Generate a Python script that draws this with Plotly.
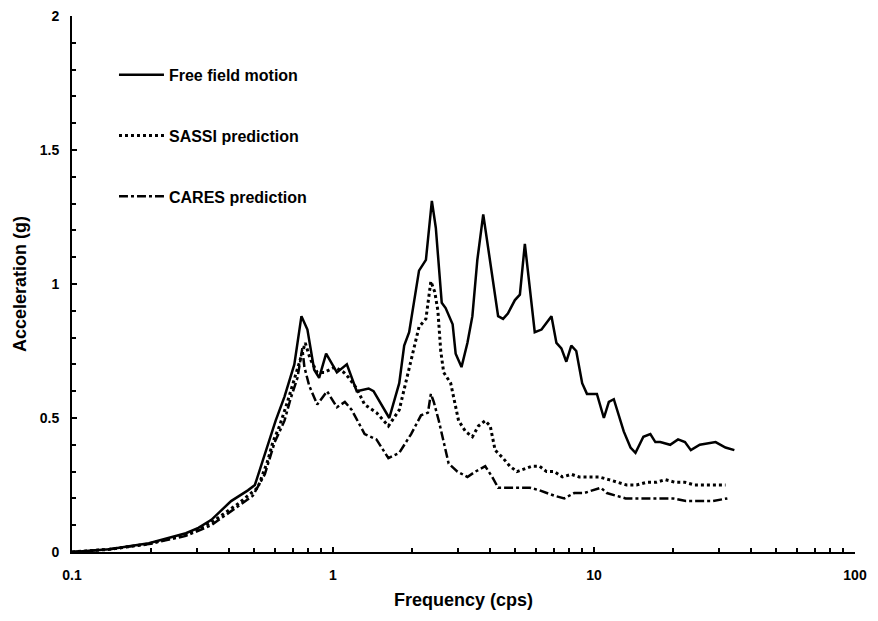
import plotly.graph_objects as go

# ---- data ----
free_f = [0.100, 0.139, 0.197, 0.273, 0.305, 0.342, 0.407, 0.472, 0.502, 0.538, 0.573, 0.603,
          0.652, 0.711, 0.757, 0.798, 0.847, 0.885, 0.941, 1.035, 1.130, 1.233, 1.369, 1.430,
          1.643, 1.794, 1.874, 1.958, 2.136, 2.270, 2.392, 2.477, 2.610, 2.701, 2.873, 2.951,
          3.107, 3.273, 3.420, 3.573, 3.764, 4.074, 4.292, 4.484, 4.677, 4.977, 5.200, 5.433,
          5.929, 6.295, 6.871, 7.178, 7.499, 7.834, 8.185, 8.551, 9.009, 9.398, 10.26, 10.91,
          11.40, 11.91, 13.00, 13.80, 14.42, 15.46, 16.44, 17.18, 17.94, 19.58, 20.99, 22.31,
          23.50, 25.43, 29.24, 31.90, 34.50]
free_a = [0.00, 0.01, 0.033, 0.07, 0.09, 0.12, 0.19, 0.23, 0.25, 0.34, 0.42, 0.49,
          0.58, 0.70, 0.88, 0.83, 0.68, 0.65, 0.74, 0.67, 0.70, 0.60, 0.61, 0.60,
          0.50, 0.63, 0.77, 0.82, 1.05, 1.09, 1.31, 1.21, 0.93, 0.91, 0.85, 0.74,
          0.69, 0.78, 0.88, 1.09, 1.26, 1.04, 0.88, 0.87, 0.89, 0.94, 0.96, 1.15,
          0.82, 0.83, 0.88, 0.78, 0.76, 0.71, 0.77, 0.75, 0.63, 0.59, 0.59, 0.50,
          0.56, 0.57, 0.45, 0.39, 0.37, 0.43, 0.44, 0.41, 0.41, 0.40, 0.42, 0.41,
          0.38, 0.40, 0.41, 0.39, 0.38]

sassi_f = [0.100, 0.139, 0.197, 0.273, 0.342, 0.433, 0.515, 0.562, 0.588, 0.624, 0.669, 0.731,
           0.783, 0.818, 0.870, 0.925, 1.018, 1.101, 1.150, 1.233, 1.322, 1.467, 1.630, 1.794,
           1.906, 2.027, 2.136, 2.270, 2.371, 2.455, 2.523, 2.587, 2.655, 2.824, 2.898, 3.028,
           3.218, 3.420, 3.606, 3.831, 4.003, 4.180, 4.484, 4.764, 5.070, 5.433, 5.771, 6.190,
           6.580, 7.050, 7.565, 8.185, 8.770, 9.570, 10.44, 11.40, 12.22, 13.34, 14.55, 15.88,
           17.33, 18.75, 20.46, 22.31, 24.33, 26.55, 28.98, 31.90]
sassi_a = [0.00, 0.01, 0.03, 0.065, 0.11, 0.18, 0.24, 0.34, 0.41, 0.47, 0.56, 0.68,
           0.78, 0.72, 0.67, 0.67, 0.69, 0.67, 0.65, 0.61, 0.55, 0.52, 0.47, 0.53,
           0.64, 0.74, 0.84, 0.87, 1.01, 0.97, 0.90, 0.75, 0.67, 0.63, 0.58, 0.49,
           0.45, 0.43, 0.47, 0.49, 0.47, 0.38, 0.35, 0.32, 0.30, 0.31, 0.32, 0.32,
           0.30, 0.30, 0.28, 0.29, 0.28, 0.28, 0.28, 0.27, 0.26, 0.25, 0.25, 0.26,
           0.26, 0.27, 0.26, 0.26, 0.25, 0.25, 0.25, 0.25]

cares_f = [0.100, 0.139, 0.197, 0.273, 0.342, 0.433, 0.493, 0.548, 0.598, 0.652, 0.687, 0.731,
           0.763, 0.777, 0.811, 0.870, 0.949, 1.035, 1.110, 1.180, 1.254, 1.322, 1.467, 1.533,
           1.630, 1.794, 1.992, 2.174, 2.311, 2.371, 2.433, 2.543, 2.655, 2.774, 2.999, 3.273,
           3.510, 3.831, 4.074, 4.292, 4.677, 5.289, 5.672, 6.190, 7.050, 7.697, 8.398, 9.165,
           10.63, 11.20, 12.11, 13.21, 14.55, 16.87, 18.41, 20.09, 22.51, 25.43, 28.51, 32.43]
cares_a = [0.00, 0.01, 0.03, 0.06, 0.10, 0.17, 0.21, 0.29, 0.41, 0.49, 0.57, 0.65,
           0.76, 0.69, 0.62, 0.55, 0.60, 0.54, 0.56, 0.53, 0.48, 0.44, 0.42, 0.39,
           0.35, 0.37, 0.44, 0.51, 0.52, 0.59, 0.56, 0.49, 0.41, 0.33, 0.30, 0.28,
           0.30, 0.32, 0.28, 0.24, 0.24, 0.24, 0.24, 0.23, 0.21, 0.20, 0.22, 0.22,
           0.24, 0.22, 0.21, 0.20, 0.20, 0.20, 0.20, 0.20, 0.19, 0.19, 0.19, 0.20]

names = ["Free field motion", "SASSI prediction", "CARES prediction"]
x_tick_vals = [0.1, 1, 10, 100]
x_tick_text = ["0.1", "1", "10", "100"]
y_tick_vals = [0, 0.5, 1, 1.5, 2]
y_tick_text = ["0", "0.5", "1", "1.5", "2"]

FONT = "Liberation Sans, Arial, sans-serif"

fig = go.Figure()
fig.add_trace(go.Scatter(x=free_f, y=free_a, mode="lines", name=names[0], legendgroup="a",
                         line=dict(color="black", width=2.5, dash="solid")))
fig.add_trace(go.Scatter(x=sassi_f, y=sassi_a, mode="lines", name=names[1], legendgroup="b",
                         line=dict(color="black", width=3, dash="dot")))
fig.add_trace(go.Scatter(x=cares_f, y=cares_a, mode="lines", name=names[2], legendgroup="c",
                         line=dict(color="black", width=2.5, dash="dashdot")))

minor_x = []
for d in [0.1, 1, 10]:
    for m in range(2, 10):
        minor_x.append(round(d * m, 3))

fig.update_xaxes(
    type="log", range=[-1, 2], automargin=False,
    tickvals=x_tick_vals, ticktext=x_tick_text, ticklabeloverflow="allow",
    ticks="inside", ticklen=5, tickwidth=1.5, tickcolor="black",
    minor=dict(tickvals=minor_x, ticks="inside", ticklen=4, tickcolor="black", showgrid=False),
    showline=True, linecolor="black", linewidth=2,
    showgrid=False, zeroline=False,
    tickfont=dict(family=FONT, size=14, color="black", weight="bold"),
    ticklabelstandoff=9,
    title=dict(text="Frequency (cps)", font=dict(family=FONT, size=18, color="black", weight="bold"),
               standoff=15),
)
fig.update_yaxes(
    range=[0, 2], automargin=False,
    tickvals=y_tick_vals, ticktext=y_tick_text, ticklabeloverflow="allow",
    ticks="inside", ticklen=5, tickwidth=1.5, tickcolor="black",
    minor=dict(dtick=0.1, ticks="inside", ticklen=4, tickcolor="black", showgrid=False),
    showline=True, linecolor="black", linewidth=2,
    showgrid=False, zeroline=False,
    tickfont=dict(family=FONT, size=14, color="black", weight="bold"),
    ticklabelstandoff=8,
    title=dict(text="Acceleration (g)", font=dict(family=FONT, size=18, color="black", weight="bold"),
               standoff=8),
)

fig.update_layout(
    width=870, height=602,
    margin=dict(l=64, r=23, t=8, b=58),
    plot_bgcolor="white", paper_bgcolor="white",
    showlegend=True,
    legend=dict(x=0.0536, y=0.922, xanchor="left", yanchor="top",
                bgcolor="rgba(0,0,0,0)", tracegroupgap=37, itemwidth=45,
                font=dict(family=FONT, size=16, color="black", weight="bold")),
)

fig.write_html("out.html")
